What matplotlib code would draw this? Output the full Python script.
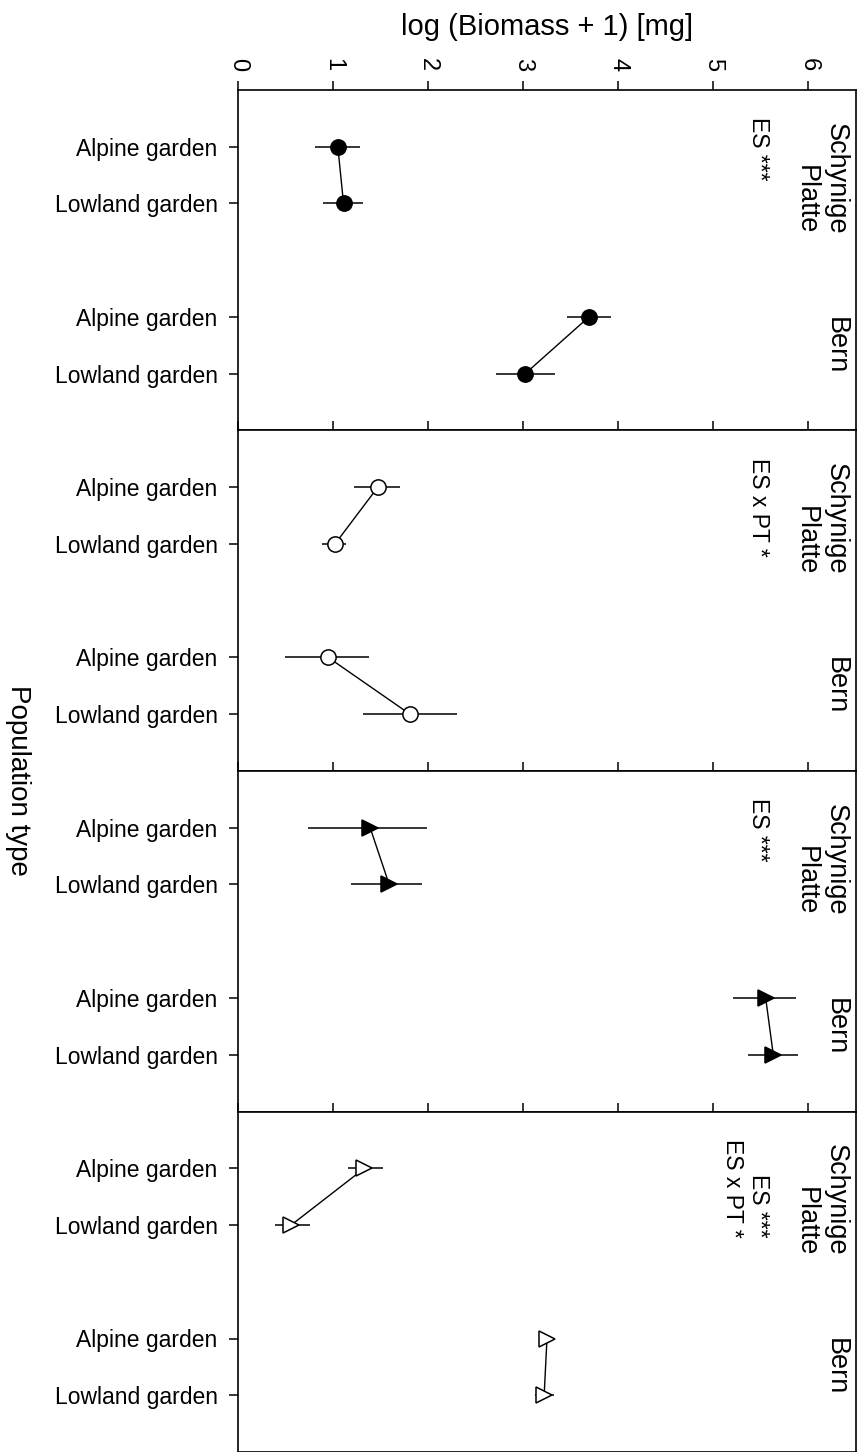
import numpy as np
import matplotlib.pyplot as plt

plt.rcParams['font.family'] = ['Liberation Sans', 'DejaVu Sans']

pop_types = ['Alpine garden', 'Lowland garden', 'Alpine garden', 'Lowland garden']
sites = ['Schynige\nPlatte', 'Bern']
annotations = ['ES ***', 'ES x PT *', 'ES ***', 'ES ***\nES x PT *']

# order in each panel: Schynige alpine, Schynige lowland, Bern alpine, Bern lowland
means_1 = [1.05, 1.11, 3.69, 3.02]
lower_1 = [0.81, 0.89, 3.46, 2.71]
upper_1 = [1.28, 1.31, 3.92, 3.33]

means_2 = [1.47, 1.02, 0.95, 1.81]
lower_2 = [1.22, 0.88, 0.49, 1.31]
upper_2 = [1.70, 1.14, 1.38, 2.30]

means_3 = [1.39, 1.59, 5.55, 5.63]
lower_3 = [0.74, 1.19, 5.21, 5.36]
upper_3 = [1.99, 1.94, 5.87, 5.89]

means_4 = [1.33, 0.56, 3.25, 3.22]
lower_4 = [1.16, 0.39, 3.17, 3.12]
upper_4 = [1.53, 0.76, 3.33, 3.32]

panels = [(means_1, lower_1, upper_1), (means_2, lower_2, upper_2),
          (means_3, lower_3, upper_3), (means_4, lower_4, upper_4)]
styles = [('o', 'black', 11), ('o', 'white', 11), ('>', 'black', 11.5), ('>', 'white', 11.5)]

W, H = 857, 1452
fig = plt.figure(figsize=(W / 100, H / 100), dpi=100)

left, right, top, bottom = 238, 856, 90, 1452
ph = (bottom - top) / 4
ypos = np.array([1, 2, 4, 5])

for i, (m, lo, hi) in enumerate(panels):
    y0 = top + i * ph
    ax = fig.add_axes([left / W, 1 - (y0 + ph) / H, (right - left) / W, ph / H])
    m = np.array(m)
    err = [m - np.array(lo), np.array(hi) - m]
    marker, fc, ms = styles[i]
    ax.errorbar(m, ypos, xerr=err, fmt='none', ecolor='black', elinewidth=1.1, capsize=0, zorder=2)
    # line joining the two population types of each site
    for k in (0, 2):
        ax.plot(m[k:k + 2], ypos[k:k + 2], color='black', lw=1.0, zorder=2)
    ax.plot(m, ypos, linestyle='none', marker=marker, markersize=ms,
            markerfacecolor=fc, markeredgecolor='black', markeredgewidth=1.1, zorder=3)

    ax.set_xlim(0, 6.5)
    ax.set_ylim(6, 0)
    ax.set_xticks(range(7))
    ax.set_yticks(ypos)
    ax.set_yticklabels(pop_types, fontsize=16.5)
    ax.xaxis.set_ticks_position('top')
    ax.tick_params(axis='x', direction='out', length=6.3, width=1.1, pad=7,
                   labeltop=(i == 0), labelbottom=False, labelsize=17)
    ax.tick_params(axis='y', direction='out', length=6.7, width=1.1, pad=8, right=False)
    if i == 0:
        for lab in ax.get_xticklabels():
            lab.set_rotation(-90)
    for sp in ax.spines.values():
        sp.set_linewidth(1.2)

    ax.text(6.42, 0.58, sites[0], rotation=-90, ha='right', va='top', fontsize=19.5)
    ax.text(6.42, 4.0, sites[1], rotation=-90, ha='right', va='top', fontsize=19.5)
    ax.text(5.6, 0.48, annotations[i], rotation=-90, ha='right', va='top', fontsize=16.5)

fig.text(547 / W, 1 - 27 / H, 'log (Biomass + 1) [mg]', ha='center', va='center', fontsize=21)
fig.text(17.5 / W, 1 - 780 / H, 'Population type', rotation=-90, ha='center', va='center', fontsize=20)

fig.savefig('out.png', dpi=100)
